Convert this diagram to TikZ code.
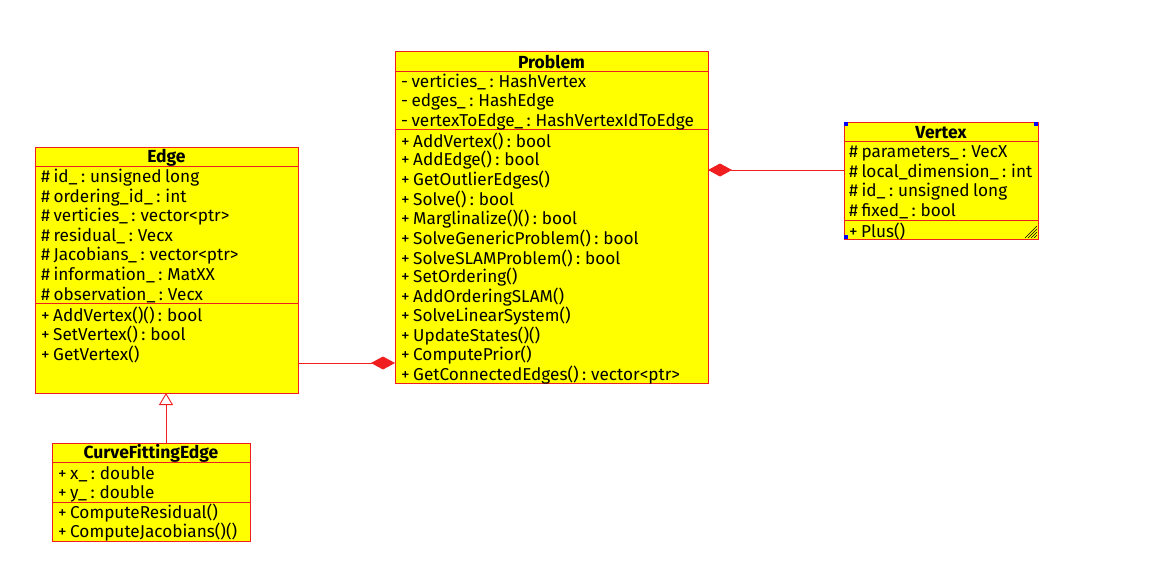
\documentclass[tikz,border=0pt]{standalone}
\usepackage{fontspec}
\setmainfont[WordSpace=0.75]{Fira Sans}
\usetikzlibrary{arrows.meta}
\definecolor{boxfill}{RGB}{255,255,0}
\definecolor{boxline}{RGB}{240,30,30}
\definecolor{handle}{RGB}{0,0,255}
\tikzset{
  classbox/.style={draw=boxline, fill=boxfill, line width=0.9pt, inner sep=0pt, anchor=north west},
  sepline/.style={draw=boxline, line width=0.9pt},
  title/.style={font=\fontsize{17.5}{19}\selectfont\bfseries, inner sep=0pt, anchor=center},
  member/.style={font=\fontsize{17.2}{19}\selectfont, inner sep=0pt, anchor=west},
  conn/.style={draw=boxline, line width=0.9pt},
  compo/.style={-{Diamond[fill=boxline, length=24pt, width=13pt]}},
  inherit/.style={-{Triangle[open, fill=white, length=12pt, width=14pt]}},
  hnd/.style={fill=handle, draw=none, minimum size=4pt, inner sep=0pt},
}
\begin{document}
\begin{tikzpicture}[x=1pt, y=-1pt]
\useasboundingbox (0,0) rectangle (1170,578);

% ---------- Edge ----------
\node[classbox, minimum width=263pt, minimum height=246pt] (edge) at (35,147) {};
\node[title] (edget) at (166.5,157.5) {Edge};
\draw[sepline] (35,166) -- (298,166);
\draw[sepline] (35,303) -- (298,303);
\node[member] (e1) at (41,178) {\# id\_ : unsigned long};
\node[member] (e2) at (41,197.5) {\# ordering\_id\_ : int};
\node[member] (e3) at (41,217) {\# verticies\_ : vector<ptr>};
\node[member] (e4) at (41,236.5) {\# residual\_ : Vecx};
\node[member] (e5) at (41,256) {\# Jacobians\_ : vector<ptr>};
\node[member] (e6) at (41,275.5) {\# information\_ : MatXX};
\node[member] (e7) at (41,295) {\# observation\_ : Vecx};
\node[member] (e8) at (41,315) {+ AddVertex()() : bool};
\node[member] (e9) at (41,334.5) {+ SetVertex() : bool};
\node[member] (e10) at (41,354) {+ GetVertex()};

% ---------- Problem ----------
\node[classbox, minimum width=313pt, minimum height=332pt] (prob) at (395,51) {};
\node[title] (probt) at (551.5,62) {Problem};
\draw[sepline] (395,71) -- (708,71);
\draw[sepline] (395,129.5) -- (708,129.5);
\node[member] (p1) at (401,82.5) {- verticies\_ : HashVertex};
\node[member] (p2) at (401,102) {- edges\_ : HashEdge};
\node[member] (p3) at (401,121.5) {- vertexToEdge\_ : HashVertexIdToEdge};
\node[member] (p4) at (401,141) {+ AddVertex() : bool};
\node[member] (p5) at (401,160.5) {+ AddEdge() : bool};
\node[member] (p6) at (401,180) {+ GetOutlierEdges()};
\node[member] (p7) at (401,199.5) {+ Solve() : bool};
\node[member] (p8) at (401,219) {+ Marglinalize()() : bool};
\node[member] (p9) at (401,238.5) {+ SolveGenericProblem() : bool};
\node[member] (p10) at (401,258) {+ SolveSLAMProblem() : bool};
\node[member] (p11) at (401,277.5) {+ SetOrdering()};
\node[member] (p12) at (401,297) {+ AddOrderingSLAM()};
\node[member] (p13) at (401,316.5) {+ SolveLinearSystem()};
\node[member] (p14) at (401,336) {+ UpdateStates()()};
\node[member] (p15) at (401,355.5) {+ ComputePrior()};
\node[member] (p16) at (401,375) {+ GetConnectedEdges() : vector<ptr>};

% ---------- Vertex ----------
\node[classbox, minimum width=194pt, minimum height=117pt] (vert) at (844,122) {};
\node[title] (vertt) at (941,132.5) {Vertex};
\draw[sepline] (844,141.5) -- (1038,141.5);
\draw[sepline] (844,220) -- (1038,220);
\node[member] (v1) at (849,153) {\# parameters\_ : VecX};
\node[member] (v2) at (849,172.5) {\# local\_dimension\_ : int};
\node[member] (v3) at (849,192) {\# id\_ : unsigned long};
\node[member] (v4) at (849,211.5) {\# fixed\_ : bool};
\node[member] (v5) at (849,231) {+ Plus()};
\node[hnd] (h1) at (846,124) {};
\node[hnd] (h2) at (1036,124) {};
\node[hnd] (h3) at (846,237) {};
\foreach \d in {3,6,9,12} {
  \draw[black, line width=0.5pt] (1037-\d,238) -- (1037,238-\d);
}

% ---------- CurveFittingEdge ----------
\node[classbox, minimum width=198pt, minimum height=98pt] (cfe) at (52,443) {};
\node[title] (cfet) at (151,453.5) {CurveFittingEdge};
\draw[sepline] (52,462.5) -- (250,462.5);
\draw[sepline] (52,502) -- (250,502);
\node[member] (c1) at (58,474) {+ x\_ : double};
\node[member] (c2) at (58,493.5) {+ y\_ : double};
\node[member] (c3) at (58,513) {+ ComputeResidual()};
\node[member] (c4) at (58,532.5) {+ ComputeJacobians()()};

% ---------- connectors ----------
\coordinate (edgeR) at (298,363);
\coordinate (probL) at (395,363);
\draw[conn, compo] (edgeR) -- (probL);
\coordinate (vertL) at (844,170);
\coordinate (probR) at (708,170);
\draw[conn, compo] (vertL) -- (probR);
\coordinate (cfeT) at (166,443);
\coordinate (edgeB) at (166,393);
\draw[conn, inherit] (cfeT) -- (edgeB);
\end{tikzpicture}
\end{document}
